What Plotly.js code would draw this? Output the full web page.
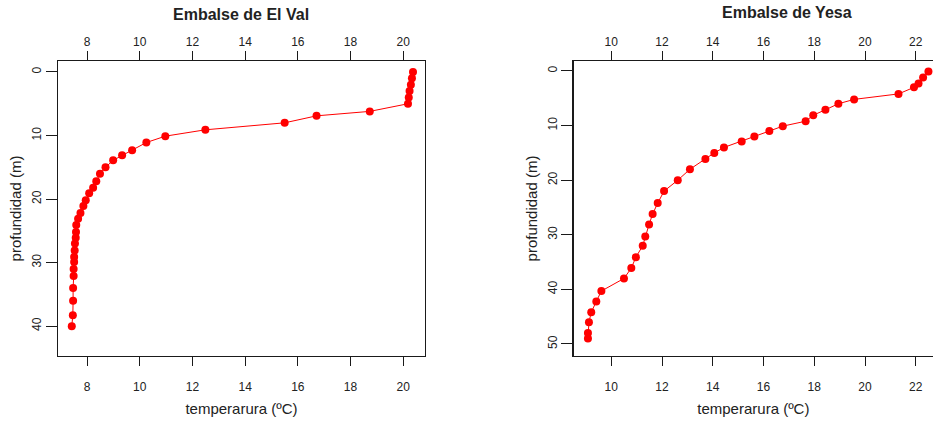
<!DOCTYPE html>
<html>
<head>
<meta charset="utf-8">
<script src="https://cdn.plot.ly/plotly-3.0.1.min.js"></script>
<style>html,body{margin:0;padding:0;background:#fff;}#chart{width:933px;height:423px;}</style>
</head>
<body>
<div id="chart"></div>
<script>
// Embalse de El Val
const valTemp = [20.37, 20.33, 20.29, 20.24, 20.21, 20.18, 18.73, 16.71, 15.50, 12.49, 10.97, 10.25, 9.71, 9.33, 8.99, 8.70, 8.49, 8.35, 8.23, 8.08, 7.95, 7.86, 7.75, 7.66, 7.59, 7.58, 7.57, 7.54, 7.53, 7.51, 7.51, 7.49, 7.49, 7.47, 7.47, 7.46, 7.42];
const valDepth = [0, 1, 2, 3, 4, 5, 6.2, 6.9, 8, 9.1, 10.1, 11.1, 12.3, 13.1, 13.9, 15, 16, 17.2, 18.2, 19.1, 20.2, 21.1, 22.2, 23.1, 24.1, 25.2, 26.1, 27, 28.1, 29.1, 29.9, 31, 32.1, 34, 36, 38.3, 40];
// Embalse de Yesa
const yesaTemp = [22.50, 22.29, 22.11, 21.93, 21.32, 19.57, 18.95, 18.44, 17.96, 17.66, 16.76, 16.23, 15.64, 15.14, 14.44, 14.06, 13.71, 13.10, 12.62, 12.08, 11.83, 11.63, 11.49, 11.34, 11.24, 10.97, 10.79, 10.50, 9.61, 9.41, 9.21, 9.12, 9.08, 9.08];
const yesaDepth = [0.1, 1.2, 2.3, 3.0, 4.2, 5.2, 6.0, 7.1, 8.1, 9.2, 10.1, 11.0, 12.0, 12.9, 14.0, 15.0, 16.1, 18.0, 20.0, 22.0, 24.2, 26.2, 28.1, 30.3, 32.0, 34.1, 36.1, 38.0, 40.3, 42.2, 44.2, 46.0, 48.0, 49.0];

const valXTicks = [8, 10, 12, 14, 16, 18, 20];
const valYTicks = [0, 10, 20, 30, 40];
const yesaXTicks = [10, 12, 14, 16, 18, 20, 22];
const yesaYTicks = [0, 10, 20, 30, 40, 50];

const titles = ['Embalse de El Val', 'Embalse de Yesa'];
const xTitle = 'temperarura (ºC)';
const yTitle = 'profundidad (m)';

const FONT = 'Liberation Sans, Arial, sans-serif';
const LC = '#1a1a1a';
const marker = {color: '#ff0000', size: 8, symbol: 'circle'};
const line = {color: '#ff0000', width: 1};

const traces = [
  {x: valTemp, y: valDepth, xaxis: 'x', yaxis: 'y', mode: 'lines+markers', marker: marker, line: line, showlegend: false, hoverinfo: 'x+y'},
  {x: yesaTemp, y: yesaDepth, xaxis: 'x2', yaxis: 'y2', mode: 'lines+markers', marker: marker, line: line, showlegend: false, hoverinfo: 'x+y'}
];

function xBase(domain, range, ticks, anchor) {
  return {domain: domain, range: range, anchor: anchor, tickmode: 'array', tickvals: ticks,
    ticks: 'outside', ticklen: 9, tickwidth: 1, tickcolor: LC, showline: true, linecolor: LC, linewidth: 1.3,
    showgrid: false, zeroline: false, tickfont: {family: FONT, size: 12, color: '#222'}, fixedrange: true};
}
function yBase(domain, range, ticks, anchor, mirror) {
  return {domain: domain, range: range, anchor: anchor, tickmode: 'array', tickvals: ticks, tickangle: -90,
    ticks: 'outside', ticklen: 11, tickwidth: 1, tickcolor: LC, showline: true, linecolor: LC, linewidth: 1.3,
    mirror: mirror, showgrid: false, zeroline: false, tickfont: {family: FONT, size: 12, color: '#222'},
    title: {text: yTitle, font: {family: FONT, size: 15, color: '#222'}, standoff: 4}, fixedrange: true};
}

const d1 = [0, 0.4194];
const d2 = [0.5894, 1];
const r1 = [6.897, 20.825];
const r2 = [8.52, 22.68];

const layout = {
  width: 933, height: 423,
  margin: {l: 58, r: 0, t: 61, b: 67},
  paper_bgcolor: '#fff', plot_bgcolor: '#fff',
  font: {family: FONT, color: '#222'},
  xaxis: Object.assign(xBase(d1, r1, valXTicks, 'y'), {side: 'bottom', ticklabelstandoff: 10,
    title: {text: xTitle, font: {family: FONT, size: 15, color: '#222'}, standoff: 10}}),
  xaxis3: Object.assign(xBase(d1, r1, valXTicks, 'y'), {side: 'top', overlaying: 'x'}),
  yaxis: yBase([0, 1], [44.7, -1.73], valYTicks, 'x', true),
  xaxis2: Object.assign(xBase(d2, r2, yesaXTicks, 'y2'), {side: 'bottom', ticklabelstandoff: 10,
    title: {text: xTitle, font: {family: FONT, size: 15, color: '#222'}, standoff: 10}}),
  xaxis4: Object.assign(xBase(d2, r2, yesaXTicks, 'y2'), {side: 'top', overlaying: 'x2'}),
  yaxis2: yBase([0, 1], [52.2, -1.83], yesaYTicks, 'x2', false),
  annotations: [
    {text: '<b>' + titles[0] + '</b>', x: (d1[0] + d1[1]) / 2, y: 1.158, xref: 'paper', yref: 'paper', xanchor: 'center', yanchor: 'middle', showarrow: false, font: {family: FONT, size: 16, color: '#222'}},
    {text: '<b>' + titles[1] + '</b>', x: 0.8335, y: 1.164, xref: 'paper', yref: 'paper', xanchor: 'center', yanchor: 'middle', showarrow: false, font: {family: FONT, size: 16, color: '#222'}}
  ]
};

// empty traces so the overlaid top axes render
traces.push({x: [], y: [], xaxis: 'x3', yaxis: 'y', showlegend: false, hoverinfo: 'skip'});
traces.push({x: [], y: [], xaxis: 'x4', yaxis: 'y2', showlegend: false, hoverinfo: 'skip'});

Plotly.newPlot('chart', traces, layout, {displayModeBar: false, staticPlot: true});
</script>
</body>
</html>
